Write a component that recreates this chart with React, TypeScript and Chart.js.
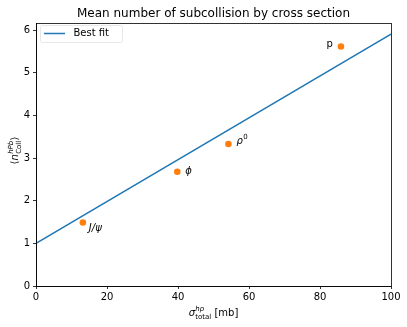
import React, { useEffect, useRef } from "react";
import { Chart, registerables } from "chart.js";

Chart.register(...registerables);

const TITLE = "Mean number of subcollision by cross section";
const fitX = [0, 100];
const fitY = [1.0, 5.91];
const particleNames = ["J/ψ", "ϕ", "ρ", "p"];
const particleSup = ["", "", "0", ""];
const sigmaValues = [13.2, 39.8, 54.2, 85.9];
const ncollValues = [1.49, 2.68, 3.33, 5.62];
const xTicks = [0, 20, 40, 60, 80, 100];
const yTicks = [0, 1, 2, 3, 4, 5, 6];

const FONT = "'DejaVu Sans', sans-serif";
const BLUE = "#1f77b4";
const ORANGE = "#ff7f0e";
const FS = 10;
const SFS = 7;

const decorPlugin = {
  id: "decor",
  afterDraw(chart: any) {
    const ctx: CanvasRenderingContext2D = chart.ctx;
    const a = chart.chartArea;
    const xs = chart.scales.x;
    const ys = chart.scales.y;
    ctx.save();
    // spines
    ctx.strokeStyle = "#000";
    ctx.lineWidth = 0.8;
    ctx.strokeRect(a.left + 0.5, a.top + 0.5, a.right - a.left, a.bottom - a.top);

    // title
    ctx.fillStyle = "#000";
    ctx.font = `12px ${FONT}`;
    ctx.textAlign = "center";
    ctx.textBaseline = "alphabetic";
    ctx.fillText(TITLE, (a.left + a.right) / 2, 17);

    // point labels
    const offs = [
      [6, 9, "left"],
      [8, 2, "left"],
      [8, 0, "left"],
      [-8, 1, "right"],
    ];
    for (let i = 0; i < particleNames.length; i++) {
      const px = xs.getPixelForValue(sigmaValues[i]);
      const py = ys.getPixelForValue(ncollValues[i]);
      const [dx, dy, al] = offs[i] as [number, number, CanvasTextAlign];
      const italic = particleNames[i] !== "p";
      ctx.font = `${italic ? "italic " : ""}${FS}px ${FONT}`;
      ctx.textAlign = al;
      ctx.textBaseline = "alphabetic";
      ctx.fillText(particleNames[i], px + dx, py + dy);
      if (particleSup[i]) {
        const w = ctx.measureText(particleNames[i]).width;
        ctx.font = `${SFS}px ${FONT}`;
        ctx.textAlign = "left";
        ctx.fillText(particleSup[i], px + dx + w + 0.5, py + dy - 5);
      }
    }

    // legend
    const lx = 40, ly = 25, lw = 82, lh = 17;
    ctx.strokeStyle = "#e2e2e2";
    ctx.lineWidth = 0.8;
    ctx.fillStyle = "rgba(255,255,255,0.8)";
    ctx.beginPath();
    (ctx as any).roundRect(lx + 0.5, ly + 0.5, lw, lh, 2);
    ctx.fill();
    ctx.stroke();
    ctx.strokeStyle = BLUE;
    ctx.lineWidth = 1.5;
    ctx.beginPath();
    ctx.moveTo(44, 33.5);
    ctx.lineTo(65, 33.5);
    ctx.stroke();
    ctx.fillStyle = "#000";
    ctx.font = `${FS}px ${FONT}`;
    ctx.textAlign = "left";
    ctx.textBaseline = "middle";
    ctx.fillText("Best fit", 73.5, 33.5);

    // x label: σ^{hp}_{total} [mb]
    {
      ctx.textBaseline = "alphabetic";
      ctx.font = `italic ${FS}px ${FONT}`;
      const sw = ctx.measureText("σ").width;
      ctx.font = `${SFS}px ${FONT}`;
      const tw = ctx.measureText("total").width;
      ctx.font = `${FS}px ${FONT}`;
      const mw = ctx.measureText(" [mb]").width;
      const total = sw + tw + mw + 0.3;
      let x = (a.left + a.right) / 2 - total / 2;
      const base = 316;
      ctx.font = `italic ${FS}px ${FONT}`;
      ctx.fillText("σ", x, base);
      ctx.font = `italic ${SFS}px ${FONT}`;
      ctx.fillText("hp", x + sw + 0.3, base - 5.5);
      ctx.font = `${SFS}px ${FONT}`;
      ctx.fillText("total", x + sw + 0.3, base + 2.5);
      x += sw + tw + 0.3;
      ctx.font = `${FS}px ${FONT}`;
      ctx.fillText(" [mb]", x, base);
    }

    // y label: ⟨n^{hPb}_{Coll}⟩ rotated
    {
      ctx.translate(18, (a.top + a.bottom) / 2 - 4);
      ctx.rotate(-Math.PI / 2);
      ctx.textBaseline = "alphabetic";
      ctx.font = `${FS}px ${FONT}`;
      const lw1 = ctx.measureText("⟨").width;
      ctx.font = `italic ${FS}px ${FONT}`;
      const nw = ctx.measureText("n").width;
      ctx.font = `${SFS}px ${FONT}`;
      const cw = ctx.measureText("Coll").width;
      const totalW = lw1 + nw + cw + lw1 + 0.6;
      let x = -totalW / 2;
      ctx.font = `${FS}px ${FONT}`;
      ctx.fillText("⟨", x, 0);
      x += lw1;
      ctx.font = `italic ${FS}px ${FONT}`;
      ctx.fillText("n", x, 0);
      x += nw + 0.3;
      ctx.font = `italic ${SFS}px ${FONT}`;
      ctx.fillText("hPb", x, -5.5);
      ctx.font = `${SFS}px ${FONT}`;
      ctx.fillText("Coll", x, 2.5);
      x += cw + 0.3;
      ctx.font = `${FS}px ${FONT}`;
      ctx.fillText("⟩", x, 0);
    }
    ctx.restore();
  },
};

export default function App() {
  const ref = useRef<HTMLCanvasElement>(null);
  useEffect(() => {
    if (!ref.current) return;
    const chart = new Chart(ref.current, {
      type: "scatter",
      data: {
        datasets: [
          {
            type: "line",
            label: "Best fit",
            data: fitX.map((x, i) => ({ x, y: fitY[i] })),
            borderColor: BLUE,
            borderWidth: 1.5,
            pointRadius: 0,
            fill: false,
          } as any,
          {
            label: "points",
            data: sigmaValues.map((x, i) => ({ x, y: ncollValues[i] })),
            backgroundColor: ORANGE,
            borderColor: ORANGE,
            pointRadius: 3.3,
            borderWidth: 0,
          },
        ],
      },
      options: {
        animation: false,
        responsive: false,
        maintainAspectRatio: false,
        layout: { padding: { left: 0, right: 16, top: 23, bottom: 0 } },
        plugins: {
          legend: { display: false },
          title: { display: false },
          tooltip: { enabled: false },
        },
        scales: {
          x: {
            type: "linear",
            min: 0,
            max: 100,
            afterBuildTicks: (s: any) => {
              s.ticks = xTicks.map((v) => ({ value: v }));
            },
            afterFit: (s: any) => {
              s.height = 41;
            },
            grid: {
              display: true,
              drawOnChartArea: false,
              drawTicks: true,
              tickLength: 3,
              color: "#000",
              lineWidth: 0.8,
            },
            border: { display: true, color: "#000", width: 0.8 },
            ticks: {
              color: "#000",
              font: { family: FONT, size: FS },
              padding: 2,
              maxRotation: 0,
            },
          },
          y: {
            type: "linear",
            min: 0,
            max: 6.17,
            afterBuildTicks: (s: any) => {
              s.ticks = yTicks.map((v) => ({ value: v }));
            },
            afterFit: (s: any) => {
              s.width = 36;
            },
            grid: {
              display: true,
              drawOnChartArea: false,
              drawTicks: true,
              tickLength: 3,
              color: "#000",
              lineWidth: 0.8,
            },
            border: { display: true, color: "#000", width: 0.8 },
            ticks: {
              color: "#000",
              font: { family: FONT, size: FS },
              padding: 3,
            },
          },
        },
      },
      plugins: [decorPlugin],
    } as any);
    return () => chart.destroy();
  }, []);
  return (
    <div style={{ position: "fixed", left: 0, top: 0, width: 407, height: 327, background: "#fff" }}>
      <canvas ref={ref} width={407} height={327} style={{ width: 407, height: 327, display: "block" }} />
    </div>
  );
}
